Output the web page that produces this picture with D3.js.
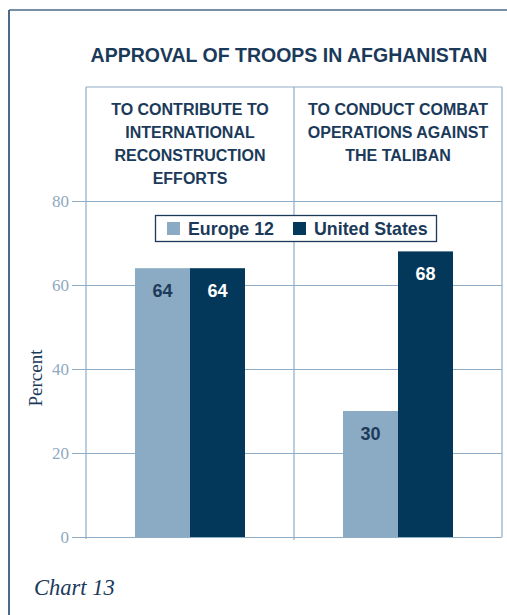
<!DOCTYPE html>
<html><head><meta charset="utf-8">
<script src="https://cdn.jsdelivr.net/npm/d3@7"></script>
<style>html,body{margin:0;padding:0;background:#fff;overflow:hidden}</style>
</head><body>
<script>
const categories = ["TO CONTRIBUTE TO|INTERNATIONAL|RECONSTRUCTION|EFFORTS", "TO CONDUCT COMBAT|OPERATIONS AGAINST|THE TALIBAN"];
const seriesNames = ["Europe 12", "United States"];
const europe12 = [64, 30];
const unitedStates = [64, 68];
const yTicks = [0, 20, 40, 60, 80];

(function () {
const W = 507, H = 615;
const navy = "#1b3a5a", frameCol = "#4a6a88", grid = "#8fadc6";
const colors = ["#8aabc3", "#03385a"];
const labelColors = ["#1e3a5a", "#ffffff"];
const sans = "Liberation Sans, Arial, sans-serif";
const serif = "Liberation Serif, serif";

const svg = d3.select("body").append("svg").attr("width", W).attr("height", H);

// outer frame
svg.append("line").attr("x1", 9).attr("x2", W).attr("y1", 10).attr("y2", 10).attr("stroke", frameCol).attr("stroke-width", 1.5);
svg.append("line").attr("x1", 9).attr("x2", 9).attr("y1", 10).attr("y2", H).attr("stroke", frameCol).attr("stroke-width", 2);

// title
svg.append("text").attr("x", 289).attr("y", 62).attr("text-anchor", "middle")
  .attr("font-family", sans).attr("font-weight", "bold")
  .attr("font-size", 19.5).attr("fill", navy).text("APPROVAL OF TROOPS IN AFGHANISTAN");

const pL = 86, pR = 502, pT = 87, zeroY = 537;
const y = d3.scaleLinear().domain([0, 80]).range([zeroY, 201]);
const x0 = d3.scaleBand().domain(categories).range([pL, pR]).paddingInner(0.4712).paddingOuter(0.2356);
const x1 = d3.scaleBand().domain(seriesNames).range([0, x0.bandwidth()]);
const xCol = d3.scaleBand().domain(categories).range([pL, pR]);

// gridlines and ticks
const yAxis = d3.axisLeft(y).tickValues(yTicks).tickSize(pR - pL + 14).tickPadding(3).tickFormat(d3.format("d"));
const gA = svg.append("g").attr("transform", `translate(${pR},0)`).call(yAxis);
gA.select(".domain").remove();
gA.selectAll(".tick line").attr("stroke", grid).attr("stroke-width", 1.2);
gA.selectAll(".tick text").attr("fill", "#8fa9c0").attr("font-family", serif).attr("font-size", 17);

// frame lines of plot
svg.append("line").attr("x1", pL).attr("x2", pL).attr("y1", pT).attr("y2", zeroY + 2).attr("stroke", grid).attr("stroke-width", 1.2);
svg.append("line").attr("x1", pR).attr("x2", pR).attr("y1", pT).attr("y2", zeroY).attr("stroke", grid).attr("stroke-width", 1.2);
svg.append("line").attr("x1", pL).attr("x2", pR).attr("y1", pT).attr("y2", pT).attr("stroke", grid).attr("stroke-width", 1.2);
svg.append("line").attr("x1", xCol(categories[1])).attr("x2", xCol(categories[1])).attr("y1", pT).attr("y2", zeroY + 3).attr("stroke", grid).attr("stroke-width", 1.2);

// column headers
categories.forEach(c => {
  const t = svg.append("text").attr("text-anchor", "middle")
    .attr("font-family", sans).attr("font-weight", "bold")
    .attr("font-size", 16).attr("fill", navy);
  c.split("|").forEach((line, i) => {
    t.append("tspan").attr("x", xCol(c) + xCol.bandwidth() / 2).attr("y", 114.5 + i * 23).text(line);
  });
});

// bars
const data = categories.map((c, i) => ({c, vals: [europe12[i], unitedStates[i]]}));
const g = svg.append("g");
data.forEach(d => {
  d.vals.forEach((v, j) => {
    const bx = x0(d.c) + x1(seriesNames[j]);
    g.append("rect").attr("x", bx).attr("y", y(v)).attr("width", x1.bandwidth()).attr("height", y(0) - y(v)).attr("fill", colors[j]);
    g.append("text").attr("x", bx + x1.bandwidth() / 2).attr("y", y(v) + 28.5).attr("text-anchor", "middle")
      .attr("font-family", sans).attr("font-weight", "bold").attr("font-size", 18)
      .attr("fill", labelColors[j]).text(v);
  });
});

// legend
const lg = svg.append("g");
lg.append("rect").attr("x", 155.5).attr("y", 215.5).attr("width", 281).attr("height", 26).attr("fill", "#fff").attr("stroke", navy).attr("stroke-width", 1.3);
const legX = [167, 293], legTX = [188, 314];
seriesNames.forEach((s, j) => {
  lg.append("rect").attr("x", legX[j]).attr("y", 222).attr("width", 13).attr("height", 13).attr("fill", colors[j]);
  lg.append("text").attr("x", legTX[j]).attr("y", 234.5).attr("font-family", sans)
    .attr("font-weight", "bold").attr("font-size", 17.8).attr("fill", navy).text(s);
});

// y-axis title
svg.append("text").attr("transform", "translate(42,378) rotate(-90)").attr("text-anchor", "middle")
  .attr("font-family", serif).attr("font-size", 19).attr("fill", navy).text("Percent");

// chart number
svg.append("text").attr("x", 34).attr("y", 595).attr("font-family", serif).attr("font-style", "italic")
  .attr("font-size", 22.5).attr("fill", navy).text("Chart 13");
})();
</script>
</body></html>
